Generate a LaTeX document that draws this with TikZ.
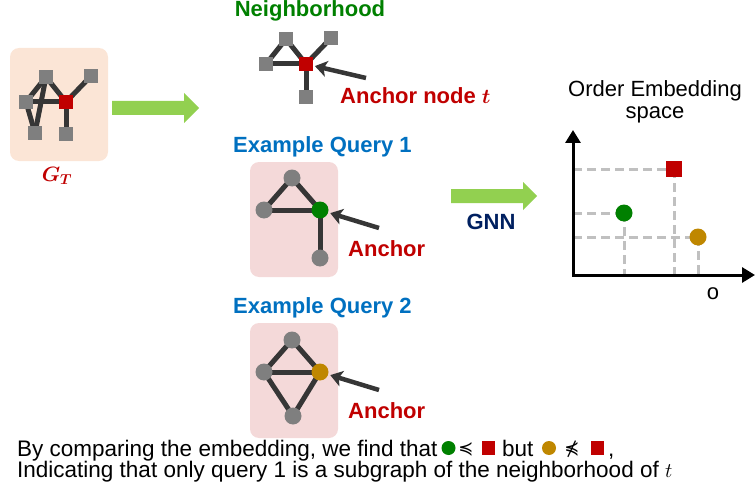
\documentclass[tikz,border=0pt]{standalone}
\usepackage{amssymb}
\usepackage{bm}
\usepackage{fontspec}
\setmainfont{Liberation Sans}
\newfontfamily\djv{DejaVu Sans}
\usetikzlibrary{arrows.meta}
\definecolor{gtfill}{HTML}{FBE5D6}
\definecolor{qfill}{HTML}{F4D9D9}
\definecolor{sqgray}{HTML}{7F7F7F}
\definecolor{edgegray}{HTML}{363636}
\definecolor{ancred}{HTML}{C00000}
\definecolor{qgreen}{HTML}{008000}
\definecolor{qgold}{HTML}{BF8700}
\definecolor{qblue}{HTML}{0070C0}
\definecolor{nbgreen}{HTML}{008000}
\definecolor{gnnblue}{HTML}{002060}
\definecolor{arrowgreen}{HTML}{92D050}
\definecolor{dashgray}{HTML}{C0C0C0}
\newcommand\fsgt{\fontsize{21}{24}\selectfont}
\newcommand\fsnb{\fontsize{22}{26}\selectfont\bfseries}
\newcommand\fsbig{\fontsize{22}{26}\selectfont\bfseries}
\newcommand\fstxt{\fontsize{22}{26}\selectfont}
\newcommand\fsbot{\fontsize{22.5}{26}\selectfont}
\newcommand\fssym{\djv\fontsize{18}{20}\selectfont}
\pgfdeclarelayer{boxlayer}
\pgfdeclarelayer{edgelayer}
\pgfsetlayers{boxlayer,edgelayer,main}
\tikzset{
  sqnode/.style={rectangle, fill=sqgray, minimum size=13.5pt, inner sep=0pt},
  rsqnode/.style={sqnode, fill=ancred},
  cirnode/.style={circle, fill=sqgray, minimum size=17pt, inner sep=0pt},
  gedge/.style={line width=5pt, draw=edgegray},
  pointer/.style={line width=4.5pt, draw=edgegray, -{Stealth[length=12pt,width=16pt,inset=3pt]}, shorten >=2pt},
  axisline/.style={line width=3pt, {Triangle[length=13pt,width=15pt]}-{Triangle[length=13pt,width=15pt]}},
  guideline/.style={line width=3pt, draw=dashgray, dash pattern=on 9pt off 5pt},
  lbl/.style={inner sep=0pt, anchor=base west},
  clbl/.style={inner sep=0pt, anchor=base},
  boxnode/.style={rectangle, rounded corners=9pt, inner sep=0pt},
  bigfont/.style={font=\fsbig},
  txtfont/.style={font=\fstxt},
  botfont/.style={font=\fsbot},
  symnode/.style={inner sep=0pt, anchor=center, font=\fssym},
}
\begin{document}
\begin{tikzpicture}[x=1pt,y=-1pt]
\useasboundingbox (0,0) rectangle (756,487);

% ---------- boxes ----------
\begin{pgfonlayer}{boxlayer}
\node[boxnode, fill=gtfill, minimum width=98pt, minimum height=113pt] (gtbox) at (59,104.5) {};
\node[boxnode, fill=qfill, minimum width=88pt, minimum height=115pt] (q1box) at (294,219.5) {};
\node[boxnode, fill=qfill, minimum width=88pt, minimum height=115pt] (q2box) at (294,380.5) {};
\end{pgfonlayer}

% ---------- G_T ----------
\node[sqnode] (gt1) at (46,77) {};
\node[sqnode] (gt2) at (91,76) {};
\node[sqnode] (gt3) at (26,102) {};
\node[rsqnode] (gt4) at (66,102) {};
\node[sqnode] (gt5) at (35,133) {};
\node[sqnode] (gt6) at (66,134) {};
\begin{pgfonlayer}{edgelayer}
\draw[gedge] (gt1.center) -- (gt3.center);
\draw[gedge] (gt1.center) -- (gt4.center);
\draw[gedge] (gt1.center) -- (gt5.center);
\draw[gedge] (gt3.center) -- (gt4.center);
\draw[gedge] (gt3.center) -- (gt5.center);
\draw[gedge] (gt4.center) -- (gt2.center);
\draw[gedge] (gt4.center) -- (gt6.center);
\end{pgfonlayer}
\node[clbl, text=ancred, font=\fsgt] (gtlbl) at (57,181) {$\bm{G_T}$};

% big arrow 1
\fill[arrowgreen] (112,101) -- (184,101) -- (184,93) -- (199,108) -- (184,123) -- (184,115) -- (112,115) -- cycle;

% ---------- Neighborhood ----------
\node[clbl, text=nbgreen, font=\fsnb] (nblbl) at (310,17) {Neighborhood};
\node[sqnode] (n1) at (286,39) {};
\node[sqnode] (n2) at (331,38) {};
\node[sqnode] (n3) at (266,64) {};
\node[rsqnode] (n4) at (306,64) {};
\node[sqnode] (n5) at (306,97) {};
\begin{pgfonlayer}{edgelayer}
\draw[gedge] (n3.center) -- (n1.center);
\draw[gedge] (n1.center) -- (n4.center);
\draw[gedge] (n3.center) -- (n4.center);
\draw[gedge] (n4.center) -- (n2.center);
\draw[gedge] (n4.center) -- (n5.center);
\end{pgfonlayer}
\coordinate (ntail) at (366,78);
\draw[pointer] (ntail) -- (n4);
\node[lbl, text=ancred, bigfont] (anlbl) at (340,103) {Anchor node $\bm{t}$};

% ---------- Query 1 ----------
\node[lbl, text=qblue, bigfont] (q1lbl) at (233,153) {Example Query 1};
\node[cirnode] (q1a) at (292,178) {};
\node[cirnode] (q1b) at (264,210) {};
\node[cirnode, fill=qgreen] (q1c) at (320,210) {};
\node[cirnode] (q1d) at (320,258) {};
\begin{pgfonlayer}{edgelayer}
\draw[gedge] (q1a.center) -- (q1b.center);
\draw[gedge] (q1a.center) -- (q1c.center);
\draw[gedge] (q1b.center) -- (q1c.center);
\draw[gedge] (q1c.center) -- (q1d.center);
\end{pgfonlayer}
\coordinate (q1tail) at (379,228);
\draw[pointer] (q1tail) -- (q1c);
\node[lbl, text=ancred, bigfont] (a1lbl) at (348,256) {Anchor};

% ---------- Query 2 ----------
\node[lbl, text=qblue, bigfont] (q2lbl) at (233,313) {Example Query 2};
\node[cirnode] (q2a) at (292,340) {};
\node[cirnode] (q2b) at (264,372) {};
\node[cirnode, fill=qgold] (q2c) at (320,372) {};
\node[cirnode] (q2d) at (293,416) {};
\begin{pgfonlayer}{edgelayer}
\draw[gedge] (q2a.center) -- (q2b.center);
\draw[gedge] (q2a.center) -- (q2c.center);
\draw[gedge] (q2b.center) -- (q2c.center);
\draw[gedge] (q2b.center) -- (q2d.center);
\draw[gedge] (q2c.center) -- (q2d.center);
\end{pgfonlayer}
\coordinate (q2tail) at (379,390);
\draw[pointer] (q2tail) -- (q2c);
\node[lbl, text=ancred, bigfont] (a2lbl) at (348,418) {Anchor};

% ---------- GNN ----------
\fill[arrowgreen] (451,189) -- (523,189) -- (523,182) -- (537,196) -- (523,210) -- (523,203) -- (451,203) -- cycle;
\node[clbl, text=gnnblue, bigfont] (gnnlbl) at (491,229) {GNN};

% ---------- Order embedding space ----------
\node[clbl, txtfont] (oe1) at (655,97) {Order Embedding};
\node[clbl, txtfont] (oe2) at (655,119) {space};
\coordinate (O) at (573,275);
\coordinate (ytip) at (573,130);
\coordinate (xtip) at (755,275);
\node[rectangle, fill=ancred, minimum size=16pt, inner sep=0pt] (pr) at (674,169) {};
\node[cirnode, fill=qgreen] (pg) at (624,213) {};
\node[cirnode, fill=qgold] (po) at (698,237) {};
\begin{pgfonlayer}{edgelayer}
\draw[guideline] (O |- pr) -- (pr.center);
\draw[guideline] (pr.center) -- (pr |- O);
\draw[guideline] (O |- pg) -- (pg.center);
\draw[guideline] (pg.center) -- (pg |- O);
\draw[guideline] (O |- po) -- (po.center);
\draw[guideline] (po.center) -- (po |- O);
\end{pgfonlayer}
\draw[axisline] (ytip) -- (O) -- (xtip);
\node[clbl, txtfont] (olbl) at (713,299) {o};

% ---------- bottom text ----------
\node[lbl, botfont] (t1) at (17,456) {By comparing the embedding, we find that};
\node[cirnode, fill=qgreen, minimum size=14pt] (s1) at (448.5,448) {};
\node[symnode] (s2) at (466,449) {≼};
\node[rectangle, fill=ancred, minimum width=13pt, minimum height=14pt, inner sep=0pt] (s3) at (488,448) {};
\node[lbl, botfont] (t2) at (502,456) {but};
\node[cirnode, fill=qgold, minimum size=14pt] (s4) at (549,448) {};
\node[symnode] (s5) at (572,449) {⋠};
\node[rectangle, fill=ancred, minimum width=13pt, minimum height=14pt, inner sep=0pt] (s6) at (597,448) {};
\node[lbl, botfont] (t3) at (608,456) {,};
\node[lbl, botfont] (t4) at (17,477) {Indicating that only query 1 is a subgraph of the neighborhood of $t$};
\end{tikzpicture}
\end{document}
